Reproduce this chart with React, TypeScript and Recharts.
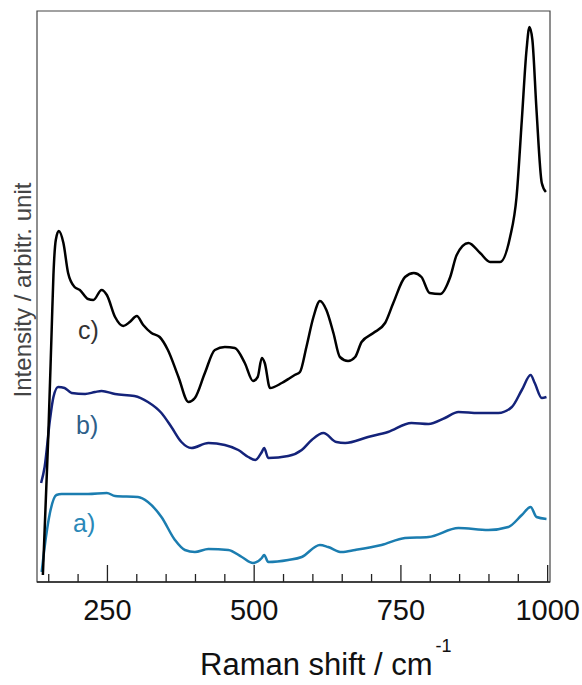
import React from "react";
import { LineChart, Line, XAxis, YAxis, ReferenceArea } from "recharts";

// Raman shift (cm^-1) and intensity (arbitrary units) for each spectrum
const aShift = [138, 143, 152, 163, 172, 217, 249, 263, 302, 319, 342, 365, 382, 399, 422, 456, 479, 498, 513, 517, 524, 558, 581, 612, 626, 649, 672, 717, 757, 797, 848, 899, 933, 956, 971, 981, 998];
const aInt = [10, 35, 69, 87, 88, 88, 89, 86, 85, 80, 65, 42, 32, 30, 33, 32, 25, 19, 24, 27, 20, 22, 25, 37, 35, 30, 32, 37, 44, 45, 54, 52, 55, 67, 75, 65, 63];

const bShift = [137, 143, 152, 158, 166, 177, 189, 212, 229, 240, 263, 296, 319, 342, 359, 376, 393, 422, 450, 473, 490, 502, 513, 517, 524, 558, 581, 598, 618, 640, 655, 694, 728, 768, 797, 825, 848, 882, 916, 939, 956, 971, 978, 990, 998];
const bInt = [99, 115, 162, 185, 195, 194, 189, 188, 190, 191, 188, 186, 180, 169, 155, 140, 134, 139, 137, 132, 125, 122, 130, 134, 124, 126, 132, 142, 149, 140, 139, 145, 150, 159, 158, 164, 170, 169, 169, 175, 192, 207, 199, 184, 185];

const cShift = [140, 149, 155, 158, 162, 167, 175, 183, 194, 203, 217, 226, 240, 249, 263, 277, 288, 300, 311, 325, 339, 353, 371, 388, 399, 416, 433, 450, 467, 484, 498, 506, 513, 518, 527, 547, 561, 569, 578, 589, 601, 612, 623, 635, 646, 660, 672, 683, 703, 723, 737, 757, 772, 785, 799, 817, 834, 845, 865, 885, 902, 919, 936, 947, 956, 964, 969, 974, 981, 990, 997];
const cInt = [7, 142, 252, 307, 342, 351, 339, 309, 295, 292, 283, 282, 292, 287, 265, 256, 260, 266, 257, 249, 245, 232, 205, 180, 184, 209, 232, 235, 234, 219, 201, 205, 224, 219, 194, 199, 204, 207, 210, 235, 265, 281, 272, 249, 225, 221, 225, 240, 249, 259, 279, 305, 309, 305, 289, 288, 305, 327, 339, 329, 320, 320, 345, 385, 462, 532, 555, 542, 472, 399, 390];

const xTicks = [150, 200, 250, 300, 350, 400, 450, 500, 550, 600, 650, 700, 750, 800, 850, 900, 950, 1000];
const xLabelled = [250, 500, 750, 1000];
const xDomain = [130, 1004];
const yDomain = [0, 571];

const toRows = (xs: number[], ys: number[]) => xs.map((x, i) => ({ x, y: ys[i] }));
const aData = toRows(aShift, aInt);
const bData = toRows(bShift, bInt);
const cData = toRows(cShift, cInt);

const FONT = "'Liberation Sans', Arial, sans-serif";

const renderTick = (props: any) => {
  const { x, y, payload } = props;
  const v = payload.value;
  const major = xLabelled.includes(v);
  return (
    <g>
      <line x1={x} x2={x} y1={y} y2={y - (major ? 17 : 8)} stroke="#222" strokeWidth={1.3} />
      {major && (
        <text x={x} y={y + 38} textAnchor="middle" fontSize={29} fontFamily={FONT} fill="#111">
          {v}
        </text>
      )}
    </g>
  );
};

export default function App() {
  return (
    <div style={{ position: "absolute", left: 0, top: 0, background: "#fff" }}>
      <LineChart
        width={582}
        height={685}
        margin={{ top: 11, right: 32, left: 37, bottom: 0 }}
      >
        <XAxis
          type="number"
          dataKey="x"
          domain={xDomain}
          ticks={xTicks}
          interval={0}
          allowDataOverflow
          height={103}
          tickSize={0}
          tickMargin={0}
          tickLine={false}
          axisLine={{ stroke: "#222", strokeWidth: 1.5 }}
          tick={renderTick}
        />
        <YAxis type="number" domain={yDomain} hide allowDataOverflow />
        <ReferenceArea
          x1={xDomain[0]}
          x2={xDomain[1]}
          y1={yDomain[0]}
          y2={yDomain[1]}
          fill="none"
          stroke="#444"
          strokeWidth={1.2}
          ifOverflow="visible"
        />
        <Line data={aData} dataKey="y" type="monotone" stroke="#1b7db0" strokeWidth={2.5} dot={false} isAnimationActive={false} />
        <Line data={bData} dataKey="y" type="monotone" stroke="#14237a" strokeWidth={2.5} dot={false} isAnimationActive={false} />
        <Line data={cData} dataKey="y" type="monotone" stroke="#000" strokeWidth={2.5} dot={false} isAnimationActive={false} />
        <text x={78} y={339} fontSize={25} fontFamily={FONT} fill="#333">c)</text>
        <text x={76} y={434} fontSize={25} fontFamily={FONT} fill="#2e5f8a">b)</text>
        <text x={73} y={532} fontSize={25} fontFamily={FONT} fill="#2a88b8">a)</text>
        <text
          x={31}
          y={290}
          transform="rotate(-90 31 290)"
          textAnchor="middle"
          fontSize={24}
          fontFamily={FONT}
          fill="#444"
        >
          Intensity / arbitr. unit
        </text>
        <text x={200} y={675} fontSize={31} fontFamily={FONT} fill="#111">
          Raman shift / cm
          <tspan dx={3} dy={-23} fontSize={18}>-1</tspan>
        </text>
      </LineChart>
    </div>
  );
}
